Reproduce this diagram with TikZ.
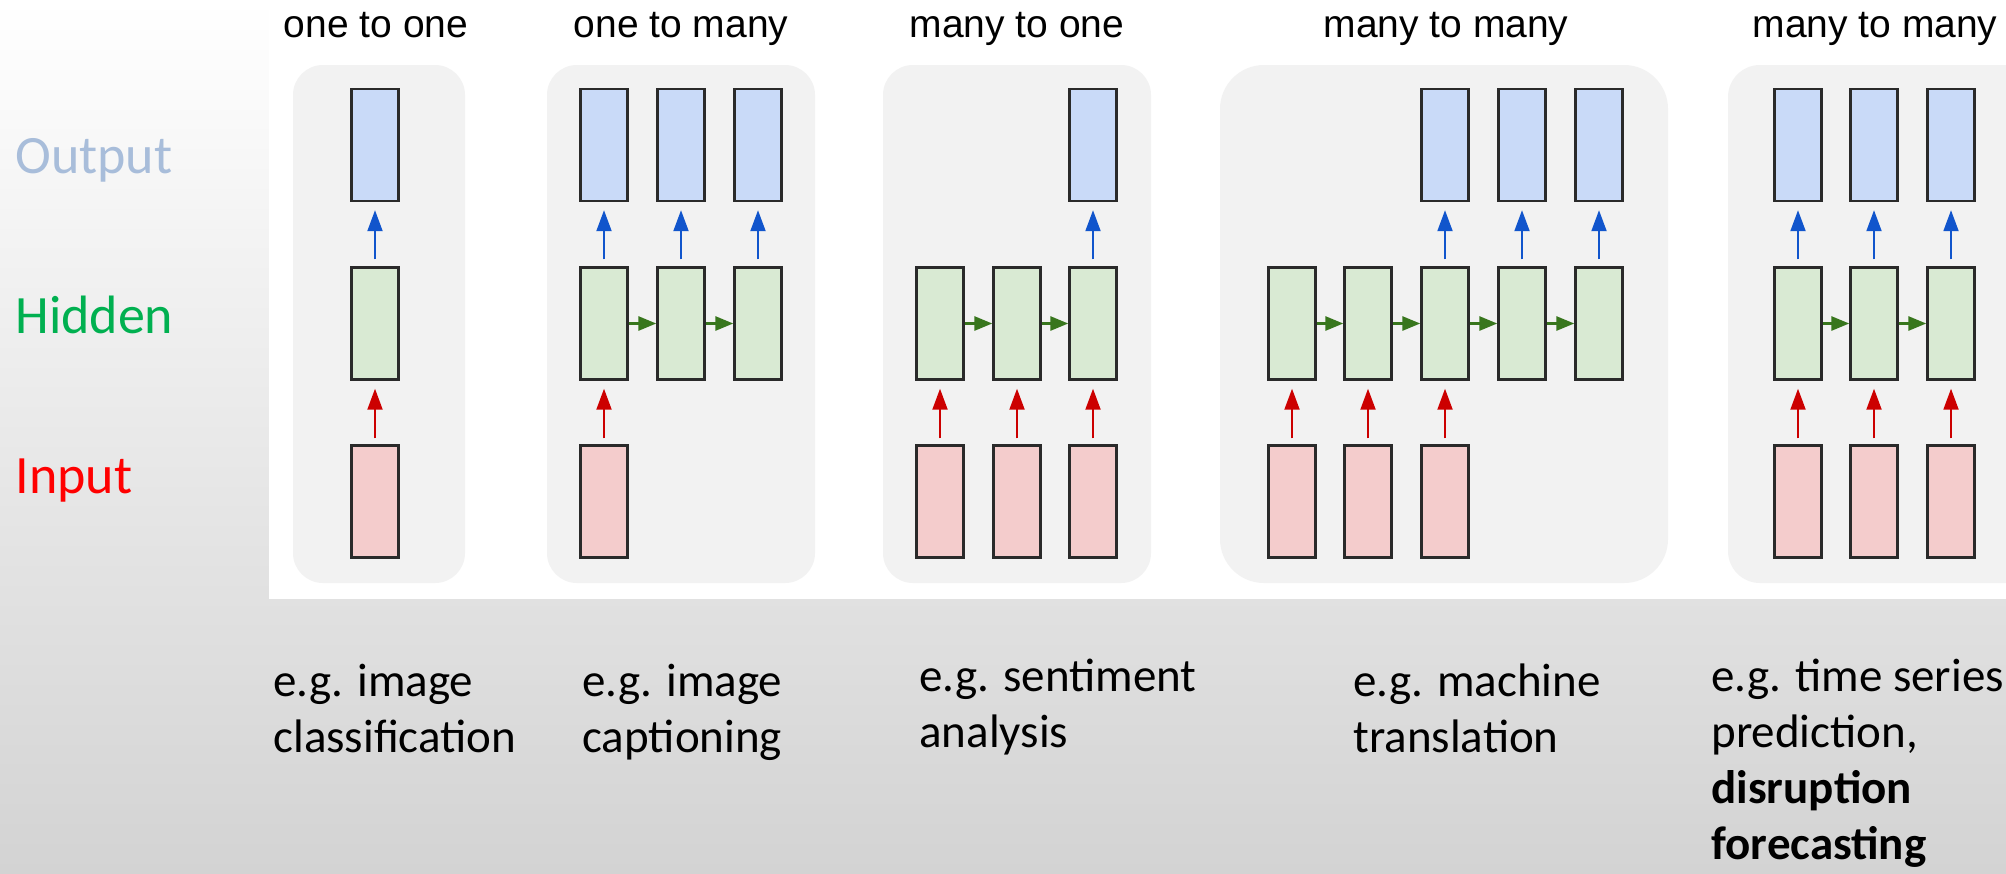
\documentclass[tikz,border=0pt]{standalone}
\usepackage{fontspec}
\setmainfont{Carlito}
\newfontfamily\titlefont{Liberation Sans}
\usetikzlibrary{arrows.meta}

\definecolor{bgmid}{HTML}{F0F0F0}
\definecolor{bgbot}{HTML}{D3D3D3}
\definecolor{panelgray}{HTML}{F2F2F2}
\definecolor{outfill}{HTML}{C9DAF8}
\definecolor{hidfill}{HTML}{D9EAD3}
\definecolor{infill}{HTML}{F4CCCC}
\definecolor{boxline}{HTML}{2A2A2A}
\definecolor{arrblue}{HTML}{1155CC}
\definecolor{arrred}{HTML}{CC0000}
\definecolor{arrgreen}{HTML}{38761D}
\definecolor{outlabel}{RGB}{168,189,218}
\definecolor{hidlabel}{HTML}{00B050}
\definecolor{inlabel}{HTML}{FF0000}

\begin{document}
\begin{tikzpicture}[x=0.5pt,y=-0.5pt,
  panel/.style={fill=panelgray},
  cell/.style={rectangle, draw=boxline, line width=1.2pt, inner sep=0pt,
               minimum width=23.5pt, minimum height=56pt},
  obox/.style={cell, fill=outfill},
  hbox/.style={cell, fill=hidfill},
  ibox/.style={cell, fill=infill},
  barrow/.style={draw=arrblue, line width=1pt,
                 -{Triangle[width=7.5pt,length=10.5pt]}, shorten <=3.5pt, shorten >=4pt},
  rarrow/.style={draw=arrred, line width=1pt,
                 -{Triangle[width=7.5pt,length=10.5pt]}, shorten <=3pt, shorten >=4pt},
  garrow/.style={draw=arrgreen, line width=1.4pt,
                 -{Triangle[width=7pt,length=9pt]}},
  title/.style={anchor=base, inner sep=0pt, font=\titlefont\fontsize{19.5}{23}\selectfont},
  side/.style={anchor=base west, inner sep=0pt, font=\fontsize{27}{32}\selectfont},
  note/.style={anchor=base west, inner sep=0pt, font=\fontsize{23.5}{28}\selectfont}
]
\useasboundingbox (0,0) rectangle (2006,873);
\clip (0,0) rectangle (2006,873);

% slide background and white figure area
\shade[top color=white, middle color=bgmid, bottom color=bgbot] (0,0) rectangle (2006,873);
\fill[white] (269,0) rectangle (2006,599);

% grey rounded panels
\fill[panel, rounded corners=15pt] (293,65) rectangle (465,583);
\fill[panel, rounded corners=15pt] (547,65) rectangle (815,583);
\fill[panel, rounded corners=15pt] (883,65) rectangle (1151,583);
\fill[panel, rounded corners=22pt] (1220,65) rectangle (1668,583);
\fill[panel, rounded corners=16pt] (1728,65) rectangle (2040,583);

% panel titles
\node[title] (t1) at (376,37) {one to one};
\node[title] (t2) at (681,37) {one to many};
\node[title] (t3) at (1017,37) {many to one};
\node[title] (t4) at (1446,37) {many to many};
\node[title] (t5) at (1875,37) {many to many};

% row labels
\node[side, text=outlabel] (lo) at (15,173) {Output};
\node[side, text=hidlabel] (lh) at (15,333) {Hidden};
\node[side, text=inlabel]  (li) at (15,493) {Input};

% one to one
\node[obox] (a-o1) at (375,145) {};
\node[hbox] (a-h1) at (375,323.5) {};
\node[ibox] (a-i1) at (375,501.5) {};
\draw[barrow] (a-h1.north) -- (a-o1.south);
\draw[rarrow] (a-i1.north) -- (a-h1.south);

% one to many
\foreach \x [count=\i] in {604,681,758} {
  \node[obox] (b-o\i) at (\x,145) {};
  \node[hbox] (b-h\i) at (\x,323.5) {};
}
\node[ibox] (b-i1) at (604,501.5) {};
\foreach \i in {1,2,3} \draw[barrow] (b-h\i.north) -- (b-o\i.south);
\draw[rarrow] (b-i1.north) -- (b-h1.south);
\draw[garrow] (b-h1.east) -- (b-h2.west);
\draw[garrow] (b-h2.east) -- (b-h3.west);

% many to one
\foreach \x [count=\i] in {940,1017,1093} {
  \node[hbox] (c-h\i) at (\x,323.5) {};
  \node[ibox] (c-i\i) at (\x,501.5) {};
}
\node[obox] (c-o3) at (1093,145) {};
\foreach \i in {1,2,3} \draw[rarrow] (c-i\i.north) -- (c-h\i.south);
\draw[barrow] (c-h3.north) -- (c-o3.south);
\draw[garrow] (c-h1.east) -- (c-h2.west);
\draw[garrow] (c-h2.east) -- (c-h3.west);

% many to many (delayed)
\foreach \x [count=\i] in {1292,1368,1445,1522,1599} {
  \node[hbox] (d-h\i) at (\x,323.5) {};
}
\foreach \x [count=\i] in {1292,1368,1445} {
  \node[ibox] (d-i\i) at (\x,501.5) {};
}
\node[obox] (d-o3) at (1445,145) {};
\node[obox] (d-o4) at (1522,145) {};
\node[obox] (d-o5) at (1599,145) {};
\foreach \i in {1,2,3} \draw[rarrow] (d-i\i.north) -- (d-h\i.south);
\foreach \i in {3,4,5} \draw[barrow] (d-h\i.north) -- (d-o\i.south);
\draw[garrow] (d-h1.east) -- (d-h2.west);
\draw[garrow] (d-h2.east) -- (d-h3.west);
\draw[garrow] (d-h3.east) -- (d-h4.west);
\draw[garrow] (d-h4.east) -- (d-h5.west);

% many to many (synced)
\foreach \x [count=\i] in {1798,1874,1951} {
  \node[obox] (e-o\i) at (\x,145) {};
  \node[hbox] (e-h\i) at (\x,323.5) {};
  \node[ibox] (e-i\i) at (\x,501.5) {};
}
\foreach \i in {1,2,3} {
  \draw[barrow] (e-h\i.north) -- (e-o\i.south);
  \draw[rarrow] (e-i\i.north) -- (e-h\i.south);
}
\draw[garrow] (e-h1.east) -- (e-h2.west);
\draw[garrow] (e-h2.east) -- (e-h3.west);

% example applications
\node[note] (n1) at (273,696) {\begin{tabular}[t]{@{}l@{}}e.g. image\\classification\end{tabular}};
\node[note] (n2) at (582,696) {\begin{tabular}[t]{@{}l@{}}e.g. image\\captioning\end{tabular}};
\node[note] (n3) at (919,691) {\begin{tabular}[t]{@{}l@{}}e.g. sentiment\\analysis\end{tabular}};
\node[note] (n4) at (1353,696) {\begin{tabular}[t]{@{}l@{}}e.g. machine\\translation\end{tabular}};
\node[note] (n5) at (1711,691) {\begin{tabular}[t]{@{}l@{}}e.g. time series\\prediction,\\\textbf{disruption}\\\textbf{forecasting}\end{tabular}};
\end{tikzpicture}
\end{document}
